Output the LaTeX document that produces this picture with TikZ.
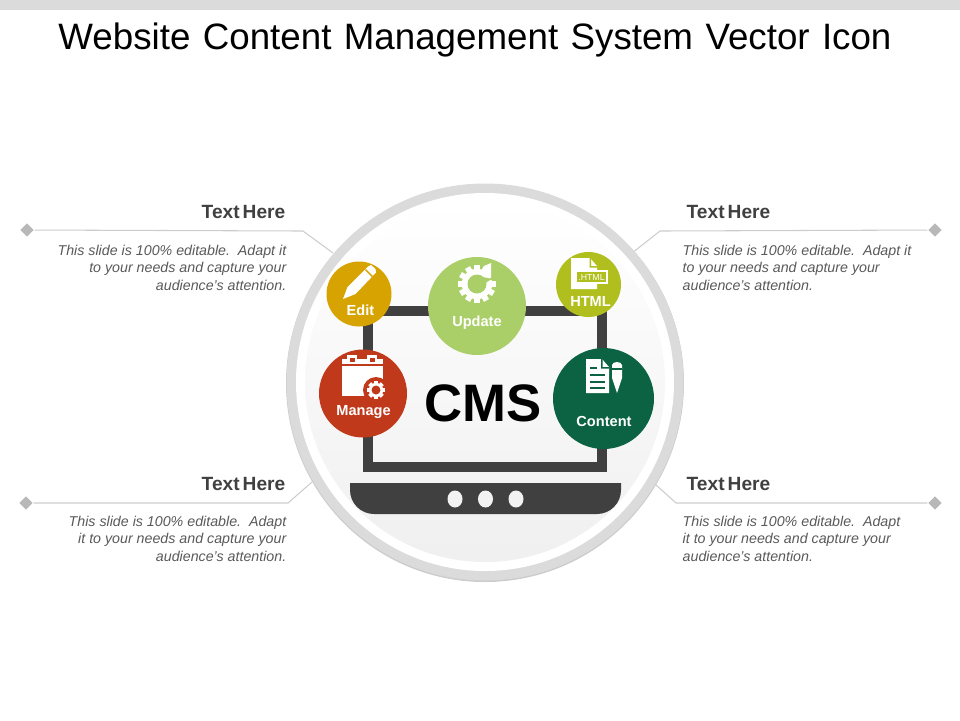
\documentclass[tikz,border=0pt]{standalone}
\usepackage{fontspec}
\setmainfont{Liberation Sans}
\usetikzlibrary{shapes.geometric}
\definecolor{ringgray}{HTML}{DBDBDB}
\definecolor{laptopgray}{HTML}{404040}
\definecolor{editcol}{HTML}{D6A300}
\definecolor{managecol}{HTML}{C0391B}
\definecolor{updatecol}{HTML}{ABCF68}
\definecolor{htmlcol}{HTML}{B0BF1E}
\definecolor{contentcol}{HTML}{0B6344}
\tikzset{
    ball/.style={circle,inner sep=0pt,text=white},
    balllabel/.style={text=white,font=\fontsize{4.15}{5}\selectfont\bfseries,inner sep=0pt},
    headlabel/.style={text=laptopgray,font=\fontsize{5.45}{6}\selectfont\bfseries,inner sep=0pt},
    bodyleft/.style={text=black!65,align=left,anchor=north west,inner sep=0pt,font=\fontsize{4.05}{4.95}\selectfont\itshape},
    bodyright/.style={text=black!65,align=right,anchor=north east,inner sep=0pt,font=\fontsize{4.05}{4.95}\selectfont\itshape},
    tick/.style={diamond,fill=black!28,inner sep=0pt,minimum size=1.4mm},
    leader/.style={draw=black!20,line width=0.3pt}
}
\newcommand{\gearicon}[5]{
    \fill[white] (#1,#2) circle [radius=#3*0.8];
    \foreach \a in {0,#5,...,350}
        \fill[white,rotate around={\a:(#1,#2)}] (#1-#3*#5/200,#2) rectangle (#1+#3*#5/200,#2-#3);
    \fill[#4] (#1,#2) circle [radius=#3*0.5];
}
\begin{document}
\begin{tikzpicture}[x=0.1mm,y=-0.1mm]
    \useasboundingbox (0,0) rectangle (960,720);
    \fill[ringgray] (0,0) rectangle (960,10);
    \node (title) at (475,40) {\fontsize{10.45}{12}\selectfont Website\hspace{0.06em} Content\hspace{0.06em} Management\hspace{0.06em} System\hspace{0.06em} Vector\hspace{0.06em} Icon};

    \node[tick] (tickTL) at (27,230) {};
    \node[tick] (tickTR) at (935,230) {};
    \node[tick] (tickBL) at (26,503) {};
    \node[tick] (tickBR) at (935,503) {};
    \coordinate (ringTL) at (333,253);
    \coordinate (ringTR) at (632,253);
    \coordinate (ringBL) at (312,482);
    \coordinate (ringBR) at (655,484);
    \draw[leader] (tickTL) -- (303,231) -- (ringTL);
    \draw[leader] (tickTR) -- (660,231) -- (ringTR);
    \draw[leader] (tickBL) -- (288,503) -- (ringBL);
    \draw[leader] (tickBR) -- (676,503) -- (ringBR);

    \node[headlabel,anchor=east] (headTL) at (286,212) {Text\hspace{-0.12em} Here};
    \node[headlabel,anchor=west] (headTR) at (686,212) {Text\hspace{-0.12em} Here};
    \node[headlabel,anchor=east] (headBL) at (286,484) {Text\hspace{-0.12em} Here};
    \node[headlabel,anchor=west] (headBR) at (686,484) {Text\hspace{-0.12em} Here};
    \node[bodyright] (bodyTL) at (287,244.5) {This slide is 100\% editable.\ \ Adapt it\\to your needs and capture your\\audience's attention.};
    \node[bodyleft] (bodyTR) at (682,244.5) {This slide is 100\% editable.\ \ Adapt it\\to your needs and capture your\\audience's attention.};
    \node[bodyright] (bodyBL) at (287,515.5) {This slide is 100\% editable.\ \ Adapt\\it to your needs and capture your\\audience's attention.};
    \node[bodyleft] (bodyBR) at (682,515.5) {This slide is 100\% editable.\ \ Adapt\\it to your needs and capture your\\audience's attention.};

    \fill[black!20] (485,383) circle [radius=199];
    \fill[ringgray] (485,382) circle [radius=198.5];
    \fill[white] (485,382) circle [radius=189];
    \shade[top color=white,bottom color=black!6] (485,382) circle [radius=180];

    \draw[laptopgray,line width=3pt] (368,311) rectangle (602,467);
    \fill[laptopgray] (350,483) -- (621,483) -- (621,490) arc [start angle=0,end angle=90,radius=24] -- (374,514) arc [start angle=90,end angle=180,radius=24] -- cycle;
    \foreach \x in {455,485.5,516}
        \fill[black!5] (\x,499) ellipse [x radius=7.5,y radius=8.5];

    \node[inner sep=0pt] (cms) at (483,403) {\fontsize{15}{16}\selectfont\bfseries\textcolor{black}{CMS}};

    \node[ball,fill=editcol,minimum size=6.5mm] (edit) at (359,294) {};
    \node[ball,fill=managecol,minimum size=8.8mm] (manage) at (363,393.5) {};
    \node[ball,fill=updatecol,minimum size=9.8mm] (update) at (477,306) {};
    \node[ball,fill=htmlcol,minimum size=6.5mm] (html) at (588.5,284.5) {};
    \node[ball,fill=contentcol,minimum size=10.1mm] (content) at (603.5,398.5) {};
    \node[balllabel] (editlabel) at (360.5,310) {Edit};
    \node[balllabel] (managelabel) at (363.5,412) {Manage};
    \node[balllabel] (updatelabel) at (477,323) {Update};
    \node[balllabel] (htmllabel) at (590.5,301) {HTML};
    \node[balllabel] (contentlabel) at (604,421) {Content};

    \fill[white] (343,299) -- (347.5,287) -- (368,266.5) -- (371,265) -- (375.5,269) -- (376,272.5) -- (355.5,294) -- cycle;
    \fill[editcol] (366,269) -- (373,276) -- (372,277) -- (365,270) -- cycle;

    \fill[white] (342,359) rectangle (383,396);
    \foreach \x in {352,372}
        \fill[white] (\x-5,355) rectangle (\x+5,359);
    \fill[managecol] (342,364) rectangle (383,365.5);
    \foreach \x in {352,372}
        \fill[managecol] (\x-2.5,357.5) rectangle (\x+2.5,361.5);
    \fill[managecol] (376,390) circle [radius=13];
    \gearicon{376}{390}{9}{managecol}{45}

    \gearicon{477}{284}{19}{updatecol}{30}
    \fill[updatecol] (490,261) -- (500,266) -- (500,280) -- (490,280) -- cycle;
    \fill[updatecol] (478,276) -- (490,278.5) -- (490,280) -- (484,284) -- cycle;
    \fill[white] (491,263) -- (491,278) -- (480,273) -- (484,266) -- cycle;

    \fill[white] (571,258) -- (590,258) -- (597,266) -- (597,289) -- (571,289) -- cycle;
    \fill[htmlcol] (591,258) -- (591,266) -- (597,266) -- (597,267.5) -- (589.5,267.5) -- (589.5,258) -- cycle;
    \fill[white] (575,270) rectangle (608,284);
    \fill[htmlcol] (577,272) rectangle (606,282);
    \node[inner sep=0pt,text=white,font=\fontsize{2.5}{3}\selectfont] (htmltag) at (591.5,277) {.HTML};

    \fill[white] (586,359) -- (602,359) -- (609,367) -- (609,393) -- (586,393) -- cycle;
    \fill[contentcol] (602.5,359) -- (602.5,367) -- (609,367) -- (609,368.5) -- (601,368.5) -- (601,359) -- cycle;
    \fill[contentcol] (590,367) rectangle (597,368.5);
    \foreach \y in {374,381,387}
        \fill[contentcol] (590,\y) rectangle (605,\y+1.5);
    \fill[white] (612,365) .. controls (613,361) and (621,361) .. (622,365) -- (622,378) -- (617,393) -- (612,378) -- cycle;
    \fill[contentcol] (612,368) rectangle (622,369.5);
\end{tikzpicture}
\end{document}
